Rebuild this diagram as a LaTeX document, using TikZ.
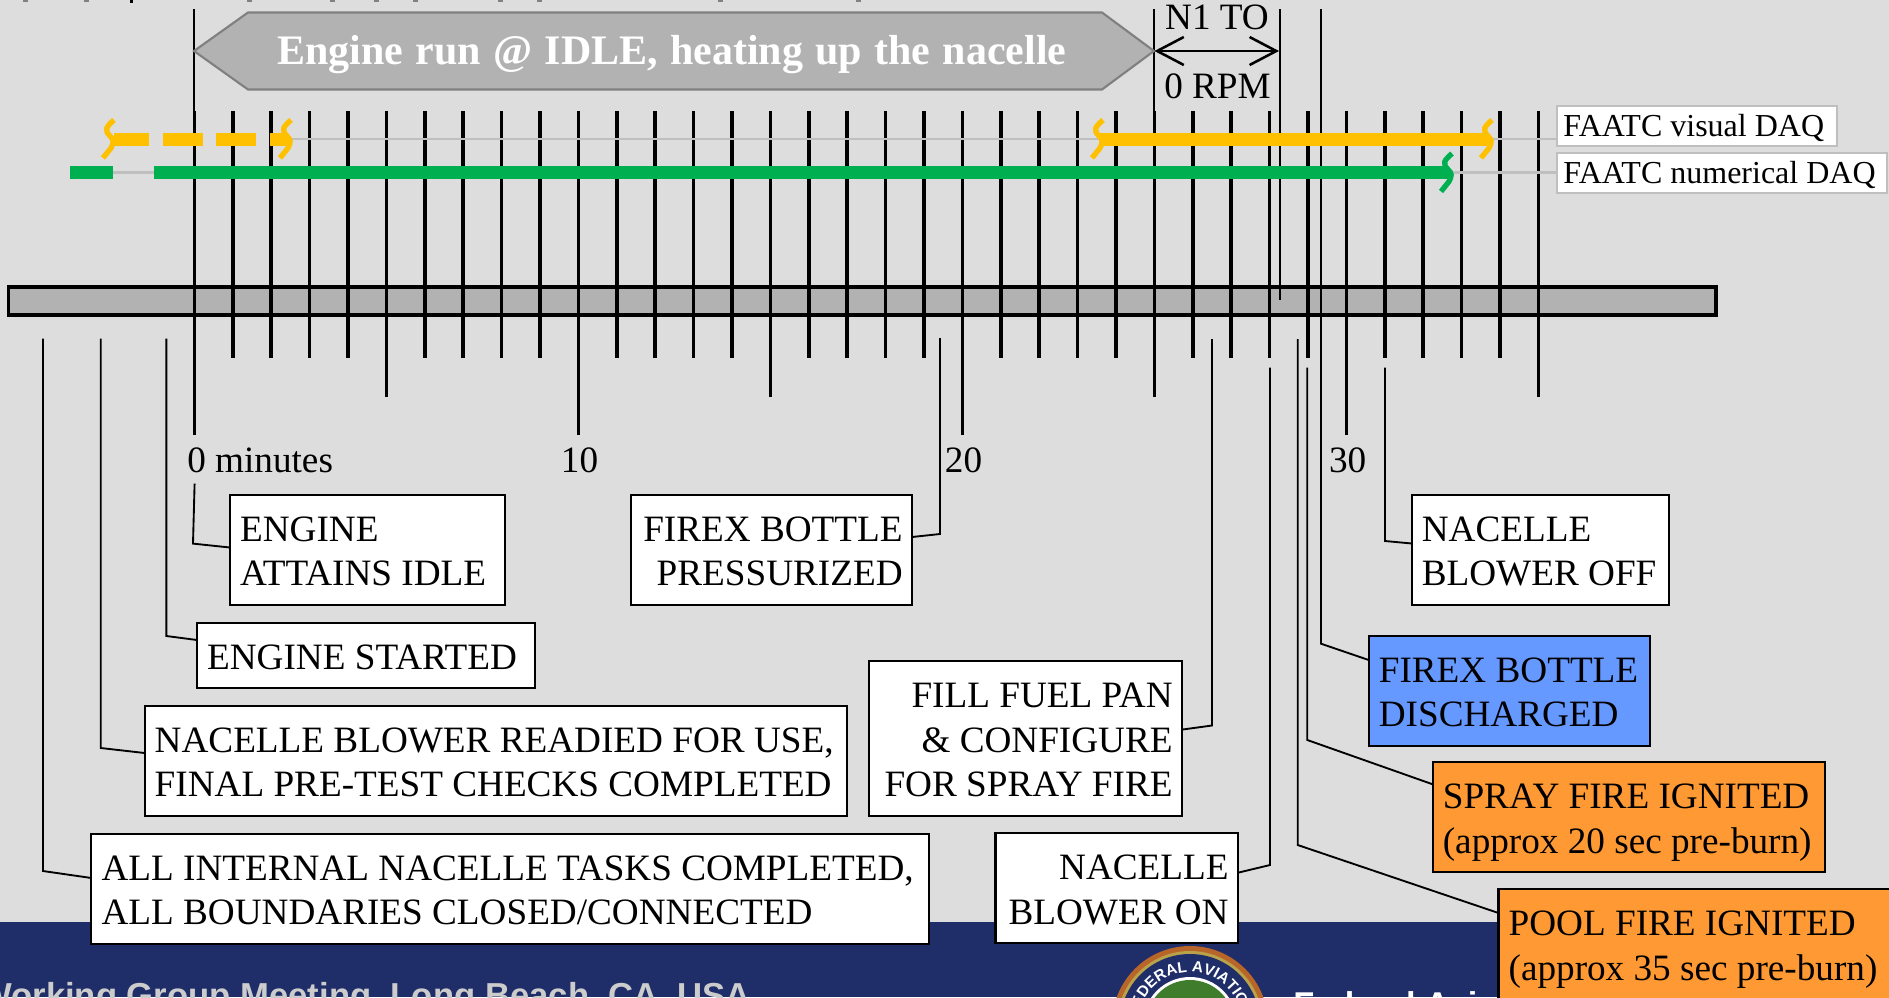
\documentclass[tikz,border=0pt]{standalone}
\usepackage{fontspec}
\setmainfont{Liberation Serif}
\newfontfamily\arialf{Liberation Sans}
\usetikzlibrary{arrows.meta,calc,decorations.text}
\definecolor{pagebg}{HTML}{DDDDDD}
\definecolor{navyband}{HTML}{1F2E68}
\definecolor{barfill}{HTML}{B2B2B2}
\definecolor{daqgrey}{HTML}{BFBFBF}
\definecolor{visorange}{HTML}{FFC000}
\definecolor{numgreen}{HTML}{00B050}
\definecolor{firexblue}{HTML}{6699FF}
\definecolor{fireorange}{HTML}{FF9933}
\definecolor{sealrim}{HTML}{B8652A}
\definecolor{sealgold}{HTML}{B9A24A}
\definecolor{sealgreen}{HTML}{3F7D2C}
\newcommand{\capsfont}{\fontsize{27.9}{33.4}\selectfont}
\newcommand{\titlefont}{\bfseries\fontsize{31.5}{36}\selectfont\spaceskip 0.293em\relax}
\newcommand{\squig}[3]{%
  \draw[#3,line width=4pt,shift={(#1,#2)}]
    (1,-19) .. controls (-7,-12) and (-9,-9) .. (-3,-3)
    .. controls (1,1) and (1,3) .. (-2,9) -- (-10,19);}
\tikzset{
  x=0.75pt,y=-0.75pt,
  lbl/.style={font=\fontsize{27.9}{32.7}\selectfont,inner sep=0pt},
  sized/.style 2 args={font=\capsfont,draw=black,line width=1.6pt,fill=white,anchor=north west,outer sep=0pt,
    inner xsep=7.6pt,inner ysep=0pt,text width={(#1-20.3)*0.75pt},minimum height={#2*0.75pt},
    execute at begin node={\rule{0pt}{21pt}}},
  rsized/.style 2 args={sized={#1}{#2},inner xsep=7pt,text width={(#1-18.7)*0.75pt}},
  daqbox/.style 2 args={font=\fontsize{24}{28}\selectfont,draw=daqgrey,line width=2pt,fill=white,anchor=north west,outer sep=0pt,
    inner xsep=4.8pt,inner ysep=0pt,text width={(#1-12.8)*0.75pt},minimum height={#2*0.75pt},align=flush left},
  tick/.style={line width=2.8pt},
  leader/.style={line width=1.4pt,line join=miter},
  daqline/.style={draw=daqgrey,line width=1.6pt},
}
\begin{document}
\begin{tikzpicture}
\useasboundingbox (0,0) rectangle (1889,997);
\clip (0,0) rectangle (1889,997);
\fill[pagebg] (0,0) rectangle (1889,922);
\fill[navyband] (0,922) rectangle (1889,997);

% clipped line of text at the very top edge
\foreach \m in {25,86,249,332,376,415,500,539,720,858}
  \fill[gray] (\m-2.5,0) rectangle (\m+2.5,1.5);
\fill[black] (129.5,0) rectangle (132.5,3);

% footer
\node[font=\arialf\bfseries\fontsize{26}{30}\selectfont,text=black!20,anchor=base west,inner sep=0pt] (wg) at (-21,1007.6) {Working Group Meeting, Long Beach, CA, USA};
\fill[sealrim] (1190,1024) circle (78);
\fill[sealgold] (1190,1024) circle (73);
\fill[navyband] (1190,1024) circle (70);
\path[decorate,decoration={text along path,text align=center,
   text={|\arialf\bfseries\fontsize{11.5}{15}\selectfont\color{white}|FEDERAL AVIATION}}]
   (1190-52,1024) arc[start angle=-180,end angle=0,radius=52];
\fill[white] (1190,1024) circle (47);
\fill[sealgreen] (1190,1024) circle (44);
\node[font=\arialf\bfseries\fontsize{25.8}{30}\selectfont,text=white,anchor=base west,inner sep=0pt] (faa) at (1293,1016.6) {Federal Aviation};

% bar
\node[draw=black,line width=2.9pt,fill=barfill,anchor=north west,outer sep=0pt,inner sep=0pt,minimum width={(1716-8.5)*0.75pt},minimum height={28*0.75pt}] (bar) at (8.5,287) {};

% ticks
\foreach \i in {0,...,35}{
  \pgfmathsetmacro{\tx}{194.4+38.4*\i}
  \pgfmathtruncatemacro{\rest}{mod(\i,5)}
  \pgfmathtruncatemacro{\restb}{mod(\i,10)}
  \ifnum\restb=0 \def\tb{435}\else\ifnum\rest=0 \def\tb{397}\else\def\tb{358}\fi\fi
  \draw[tick] (\tx,111) -- (\tx,\tb);
}

% thin top verticals
\coordinate (va) at (194.4,9); \coordinate (vab) at (194.4,111);
\coordinate (vb) at (1154.4,9); \coordinate (vbb) at (1154.4,111);
\coordinate (vc) at (1280,9); \coordinate (vcb) at (1280,300);
\draw[leader] (va) -- (vab);
\draw[leader] (vb) -- (vbb);
\draw[leader] (vc) -- (vcb);

% title arrow
\filldraw[fill=barfill,draw=black!50,line width=1.6pt] (194,51) -- (248,12.5) -- (1102,12.5) -- (1154,51) -- (1102,89.5) -- (248,89.5) -- cycle;
\node[font=\titlefont,text=white,inner sep=0pt,anchor=base] (title) at (672,64.5) {Engine run @ IDLE, heating up the nacelle};

% N1 arrow
\node[lbl,anchor=base] (n1) at (1217,29) {N1 TO};
\node[lbl,anchor=base] (rpm) at (1217.5,98) {0 RPM};
\coordinate (ar) at (1154.4,51); \coordinate (as) at (1279,51);
\draw[line width=1.9pt,{Straight Barb[length=20pt,width=21pt]}-{Straight Barb[length=20pt,width=21pt]}] (ar) -- (as);

% axis labels
\node[lbl,anchor=base west] (t0) at (187,472) {0 minutes};
\node[lbl,anchor=base] (t10) at (579.5,472) {10};
\node[lbl,anchor=base] (t20) at (963.5,472) {20};
\node[lbl,anchor=base] (t30) at (1347.6,472) {30};

% boxes
\node[sized={275}{110.5},align=flush left] (idle) at (230,494.6) {ENGINE\\ATTAINS IDLE};
\node[sized={337.6}{65},align=flush left] (start) at (197,623) {ENGINE STARTED};
\node[sized={702.4}{110},align=flush left] (ready) at (144.6,705.7) {NACELLE BLOWER READIED FOR USE,\\FINAL PRE-TEST CHECKS COMPLETED};
\node[sized={837.6}{110},align=flush left] (allb) at (91.4,833.6) {ALL INTERNAL NACELLE TASKS COMPLETED,\\ALL BOUNDARIES CLOSED/CONNECTED};
\node[rsized={281}{110.5},align=flush right] (press) at (631,494.6) {FIREX BOTTLE\\PRESSURIZED};
\node[rsized={313}{155},align=flush right] (fill) at (869,661) {FILL FUEL PAN\\\& CONFIGURE\\FOR SPRAY FIRE};
\node[rsized={242.5}{110},align=flush right] (bon) at (995.5,833.3) {NACELLE\\BLOWER ON};
\node[sized={257.3}{110.4},align=flush left] (boff) at (1411.7,494.6) {NACELLE\\BLOWER OFF};
\node[sized={281.3}{110.4},align=flush left,fill=firexblue] (disch) at (1368.7,635.6) {FIREX BOTTLE\\DISCHARGED};
\node[sized={392.3}{110.3},align=flush left,fill=fireorange] (spray) at (1432.7,761.7) {SPRAY FIRE IGNITED\\\smash{(approx 20 sec pre-burn)}};
\node[sized={500}{110},align=flush left,fill=fireorange] (pool) at (1498.5,889) {POOL FIRE IGNITED\\\smash{(approx 35 sec pre-burn)}};

% leaders
\coordinate (l1s) at (43,338.6); \coordinate (l1k) at (43,871);
\draw[leader] (l1s) -- (l1k) -- ($(allb.north west)+(0,44.4)$);
\coordinate (l2s) at (100.7,338.6); \coordinate (l2k) at (100.7,748);
\draw[leader] (l2s) -- (l2k) -- ($(ready.north west)+(0,47.3)$);
\coordinate (l3s) at (166.4,338.6); \coordinate (l3k) at (166.4,636);
\draw[leader] (l3s) -- (l3k) -- ($(start.north west)+(0,17)$);
\coordinate (l4s) at (194.6,483.6); \coordinate (l4k) at (193,543.6);
\draw[leader] (l4s) -- (l4k) -- ($(idle.north west)+(0,52.9)$);
\coordinate (l5s) at (940,338); \coordinate (l5k) at (940,534);
\draw[leader] (l5s) -- (l5k) -- ($(press.north east)+(0,42.4)$);
\coordinate (l6s) at (1212,339); \coordinate (l6k) at (1212,725.5);
\draw[leader] (l6s) -- (l6k) -- ($(fill.north east)+(0,68.6)$);
\coordinate (l7s) at (1270,367.7); \coordinate (l7k) at (1270,865);
\draw[leader] (l7s) -- (l7k) -- ($(bon.north east)+(0,39.4)$);
\coordinate (l8s) at (1297.7,339); \coordinate (l8k) at (1297.7,845);
\draw[leader] (l8s) -- (l8k) -- ($(pool.north west)+(0,24)$);
\coordinate (l9s) at (1307.3,367.7); \coordinate (l9k) at (1307.3,740);
\draw[leader] (l9s) -- (l9k) -- ($(spray.north west)+(0,22.6)$);
\coordinate (l10s) at (1321,9); \coordinate (l10k) at (1321,643.7);
\draw[leader] (l10s) -- (l10k) -- ($(disch.north west)+(0,24.4)$);
\coordinate (l11s) at (1385,367.7); \coordinate (l11k) at (1385,541);
\draw[leader] (l11s) -- (l11k) -- ($(boff.north west)+(0,48.9)$);

% grey DAQ lines and boxes
\node[daqbox={280}{40}] (vis) at (1557,106) {\rule{0pt}{15.9pt}\smash{FAATC visual DAQ}};
\node[daqbox={330}{40}] (num) at (1557,153) {\rule{0pt}{15.9pt}\smash{FAATC numerical DAQ}};
\coordinate (oa) at (288,139); \coordinate (ob) at (1100,139); \coordinate (oc) at (1488,139);
\coordinate (ga) at (113,172.5); \coordinate (gb) at (154,172.5); \coordinate (gc) at (1448,172.5);
\draw[daqline] (oa) -- (ob);
\draw[daqline] (oc) -- (vis.west |- oc);
\draw[daqline] (ga) -- (gb);
\draw[daqline] (gc) -- (num.west |- gc);

% DAQ bands
\foreach \a/\b in {114/149,163/203,216/256,270/288}
  \fill[visorange] (\a,132.5) rectangle (\b,145.5);
\fill[visorange] (1099,132.5) rectangle (1489,145.5);
\fill[numgreen] (70,166) rectangle (113,179);
\fill[numgreen] (154,166) rectangle (1449,179);
\squig{113}{139}{visorange}
\squig{290}{139}{visorange}
\squig{1102}{139}{visorange}
\squig{1491}{139}{visorange}
\squig{1451}{172.5}{numgreen}
\end{tikzpicture}
\end{document}
